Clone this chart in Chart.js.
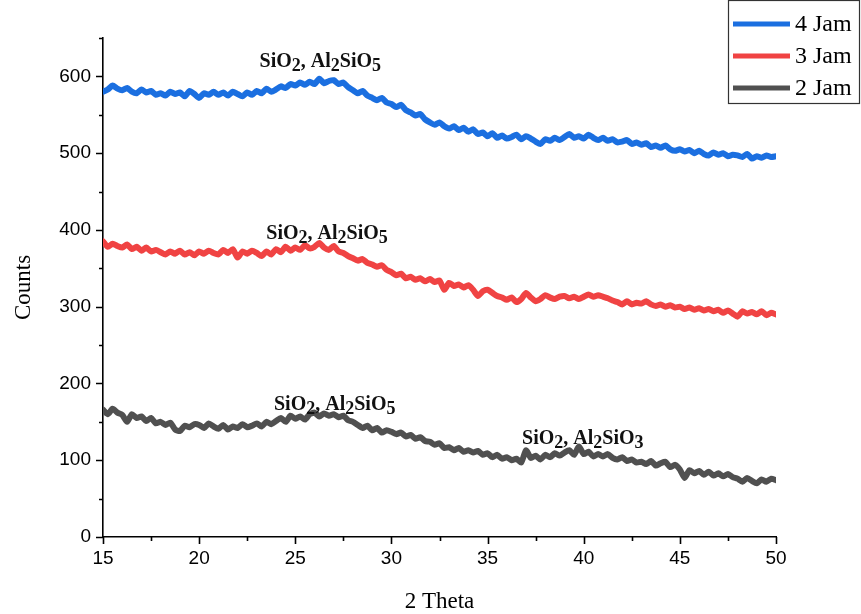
<!DOCTYPE html>
<html>
<head>
<meta charset="utf-8">
<script src="https://cdn.jsdelivr.net/npm/chart.js@4.4.1/dist/chart.umd.min.js"></script>
<style>
  html, body { margin: 0; padding: 0; background: #fff; }
  #wrap { position: relative; width: 861px; height: 614px; }
</style>
</head>
<body>
<div id="wrap"><canvas id="xrd"></canvas></div>
<script>
// 2-theta grid: 15 to 50 in 0.25 steps
var thetaStart = 15, thetaStep = 0.25;

var counts4Jam = [
  580, 583, 588, 584, 582, 585, 580, 578, 583, 579, 581, 576, 578, 575, 580, 577,
  579, 574, 581, 577, 572, 578, 576, 580, 576, 579, 575, 580, 577, 574, 579, 576,
  581, 578, 584, 580, 583, 587, 585, 590, 588, 592, 589, 593, 590, 597, 591, 594,
  595, 590, 592, 586, 582, 578, 581, 575, 572, 569, 572, 566, 564, 560, 563, 556,
  553, 549, 551, 544, 540, 537, 540, 535, 532, 535, 530, 533, 528, 531, 525, 527,
  522, 526, 520, 523, 519, 521, 524, 518, 522, 519, 515, 512, 518, 516, 520, 517,
  521, 525, 520, 522, 519, 524, 520, 517, 520, 516, 518, 514, 515, 517, 512, 514,
  511, 513, 508, 510, 507, 510, 505, 503, 505, 502, 504, 500, 503, 499, 497, 501,
  498, 500, 496, 498, 497, 495, 499, 493, 496, 494, 497, 495, 496
];

var counts3Jam = [
  385, 378, 382, 379, 377, 381, 375, 378, 373, 377, 372, 374, 371, 368, 372, 369,
  373, 368, 371, 367, 372, 369, 373, 370, 368, 374, 370, 375, 364, 372, 369, 373,
  370, 366, 372, 368, 375, 371, 378, 373, 377, 374, 380, 376, 378, 383, 377, 374,
  379, 372, 370, 366, 363, 360, 362, 357, 355, 352, 354, 348, 345, 341, 343, 337,
  339, 335, 337, 333, 336, 332, 334, 322, 331, 327, 329, 325, 328, 322, 314, 320,
  322, 318, 314, 312, 309, 312, 306, 310, 318, 312, 307, 310, 315, 312, 310, 313,
  314, 311, 313, 310, 313, 316, 313, 315, 313, 311, 308, 306, 303, 307, 303, 305,
  304, 307, 303, 301, 303, 300, 302, 299, 300, 297, 299, 296, 298, 295, 297, 294,
  296, 292, 295, 291, 287, 294, 291, 293, 290, 294, 289, 292, 290
];

var counts2Jam = [
  166, 160, 167, 162, 159, 150, 160, 155, 157, 151, 155, 148, 150, 146, 149, 140,
  138, 145, 143, 147, 146, 142, 148, 144, 141, 146, 140, 144, 142, 147, 143, 145,
  148, 144, 150, 147, 151, 155, 150, 158, 154, 157, 153, 160, 162, 157, 161, 158,
  160, 156, 158, 152, 150, 146, 142, 145, 139, 142, 136, 139, 137, 134, 136, 131,
  133, 128, 130, 125, 124, 120, 122, 116, 117, 113, 116, 111, 113, 110, 112, 107,
  109, 104, 107, 102, 104, 100, 102, 97, 113, 103, 106, 101, 107, 104, 109, 106,
  110, 113, 107, 118, 108, 111, 105, 108, 105, 108, 103, 101, 104, 99, 101, 97,
  98, 95, 99, 93, 96, 98, 91, 94, 88, 77, 87, 83, 86, 81, 85, 80,
  83, 79, 82, 78, 76, 72, 77, 73, 70, 75, 72, 76, 74
];

var xTicks = [15, 20, 25, 30, 35, 40, 45, 50];
var yTicks = [0, 100, 200, 300, 400, 500, 600];

// phase labels: [2theta, counts, text parts ([text, isSubscript])]
var phaseLabels = [
  [26.3, 612, [['SiO', 0], ['2', 1], [', Al', 0], ['2', 1], ['SiO', 0], ['5', 1]]],
  [26.65, 388, [['SiO', 0], ['2', 1], [', Al', 0], ['2', 1], ['SiO', 0], ['5', 1]]],
  [27.05, 166, [['SiO', 0], ['2', 1], [', Al', 0], ['2', 1], ['SiO', 0], ['5', 1]]],
  [39.95, 121, [['SiO', 0], ['2', 1], [', Al', 0], ['2', 1], ['SiO', 0], ['3', 1]]]
];

function toPoints(arr) {
  return arr.map(function (v, i) { return { x: thetaStart + i * thetaStep, y: v }; });
}

Chart.defaults.font.family = '"Liberation Sans", Arial, sans-serif';
Chart.defaults.color = '#000';

// outward major/minor ticks on both axes
var tickMarks = {
  id: 'tickMarks',
  afterDraw: function (chart) {
    var ctx = chart.ctx, xs = chart.scales.x, ys = chart.scales.y;
    var a = chart.chartArea;
    ctx.save();
    ctx.strokeStyle = '#000';
    ctx.lineWidth = 1.6;
    ctx.beginPath();
    for (var v = 15; v <= 50; v += 2.5) {
      var px = Math.round(xs.getPixelForValue(v)) + 0.5;
      var len = (v % 5 === 0) ? 7 : 4;
      ctx.moveTo(px, a.bottom);
      ctx.lineTo(px, a.bottom + len);
    }
    for (var w = 0; w <= 650; w += 50) {
      var py = Math.round(ys.getPixelForValue(w)) + 0.5;
      var l = (w % 100 === 0) ? 7 : 4;
      ctx.moveTo(a.left, py);
      ctx.lineTo(a.left - l, py);
    }
    ctx.stroke();
    ctx.restore();
  }
};

var phaseText = {
  id: 'phaseText',
  afterDatasetsDraw: function (chart) {
    var ctx = chart.ctx, xs = chart.scales.x, ys = chart.scales.y;
    var mainFont = 'bold 20px "Liberation Serif", "Times New Roman", serif';
    var subFont = 'bold 18px "Liberation Serif", "Times New Roman", serif';
    ctx.save();
    ctx.fillStyle = '#111';
    ctx.textBaseline = 'alphabetic';
    ctx.textAlign = 'left';
    phaseLabels.forEach(function (lab) {
      var parts = lab[2];
      var total = 0;
      parts.forEach(function (p) {
        ctx.font = p[1] ? subFont : mainFont;
        total += ctx.measureText(p[0]).width;
      });
      var x = xs.getPixelForValue(lab[0]) - total / 2;
      var y = ys.getPixelForValue(lab[1]);
      parts.forEach(function (p) {
        ctx.font = p[1] ? subFont : mainFont;
        ctx.fillText(p[0], x, p[1] ? y + 4 : y);
        x += ctx.measureText(p[0]).width;
      });
    });
    ctx.restore();
  }
};

var boxLegend = {
  id: 'boxLegend',
  afterDraw: function (chart) {
    var ctx = chart.ctx;
    ctx.save();
    ctx.strokeStyle = '#333';
    ctx.lineWidth = 1.2;
    ctx.strokeRect(728.5, 0.5, 131, 103);
    ctx.font = '24px "Liberation Serif", "Times New Roman", serif';
    ctx.textBaseline = 'middle';
    ctx.fillStyle = '#000';
    chart.data.datasets.forEach(function (ds, row) {
      var y = 24 + row * 32;
      ctx.strokeStyle = ds.borderColor;
      ctx.lineWidth = 5;
      ctx.beginPath();
      ctx.moveTo(733, y);
      ctx.lineTo(790, y);
      ctx.stroke();
      ctx.fillText(ds.label, 795, y + 1);
    });
    ctx.restore();
  }
};

new Chart(document.getElementById('xrd'), {
  type: 'line',
  data: {
    datasets: [
      { label: '4 Jam', data: toPoints(counts4Jam), borderColor: '#1b6fe0' },
      { label: '3 Jam', data: toPoints(counts3Jam), borderColor: '#f04343' },
      { label: '2 Jam', data: toPoints(counts2Jam), borderColor: '#505050' }
    ]
  },
  options: {
    responsive: true,
    maintainAspectRatio: false,
    animation: false,
    layout: { padding: { top: 38, right: 85, left: 0, bottom: 0 } },
    elements: {
      point: { radius: 0 },
      line: { borderWidth: 6, tension: 0.2, borderCapStyle: 'round', borderJoinStyle: 'round' }
    },
    plugins: { legend: { display: false }, tooltip: { enabled: false } },
    scales: {
      x: {
        type: 'linear',
        min: 15,
        max: 50,
        afterBuildTicks: function (s) { s.ticks = xTicks.map(function (v) { return { value: v }; }); },
        afterFit: function (s) { s.height = 77; },
        grid: { display: false },
        border: { display: true, color: '#000', width: 1.6 },
        ticks: { font: { size: 19 }, padding: 2, maxRotation: 0, autoSkip: false },
        title: {
          display: true,
          text: '2 Theta',
          font: { family: '"Liberation Serif", "Times New Roman", serif', size: 23 },
          padding: { top: 0, bottom: -2 }
        }
      },
      y: {
        min: 0,
        max: 650,
        afterBuildTicks: function (s) { s.ticks = yTicks.map(function (v) { return { value: v }; }); },
        afterFit: function (s) { s.width = 103; },
        grid: { display: false },
        border: { display: true, color: '#000', width: 1.6 },
        ticks: { font: { size: 19 }, padding: 4 },
        title: {
          display: true,
          text: 'Counts',
          font: { family: '"Liberation Serif", "Times New Roman", serif', size: 23 },
          padding: { top: 10, bottom: 6 }
        }
      }
    }
  },
  plugins: [tickMarks, phaseText, boxLegend]
});
</script>
</body>
</html>
